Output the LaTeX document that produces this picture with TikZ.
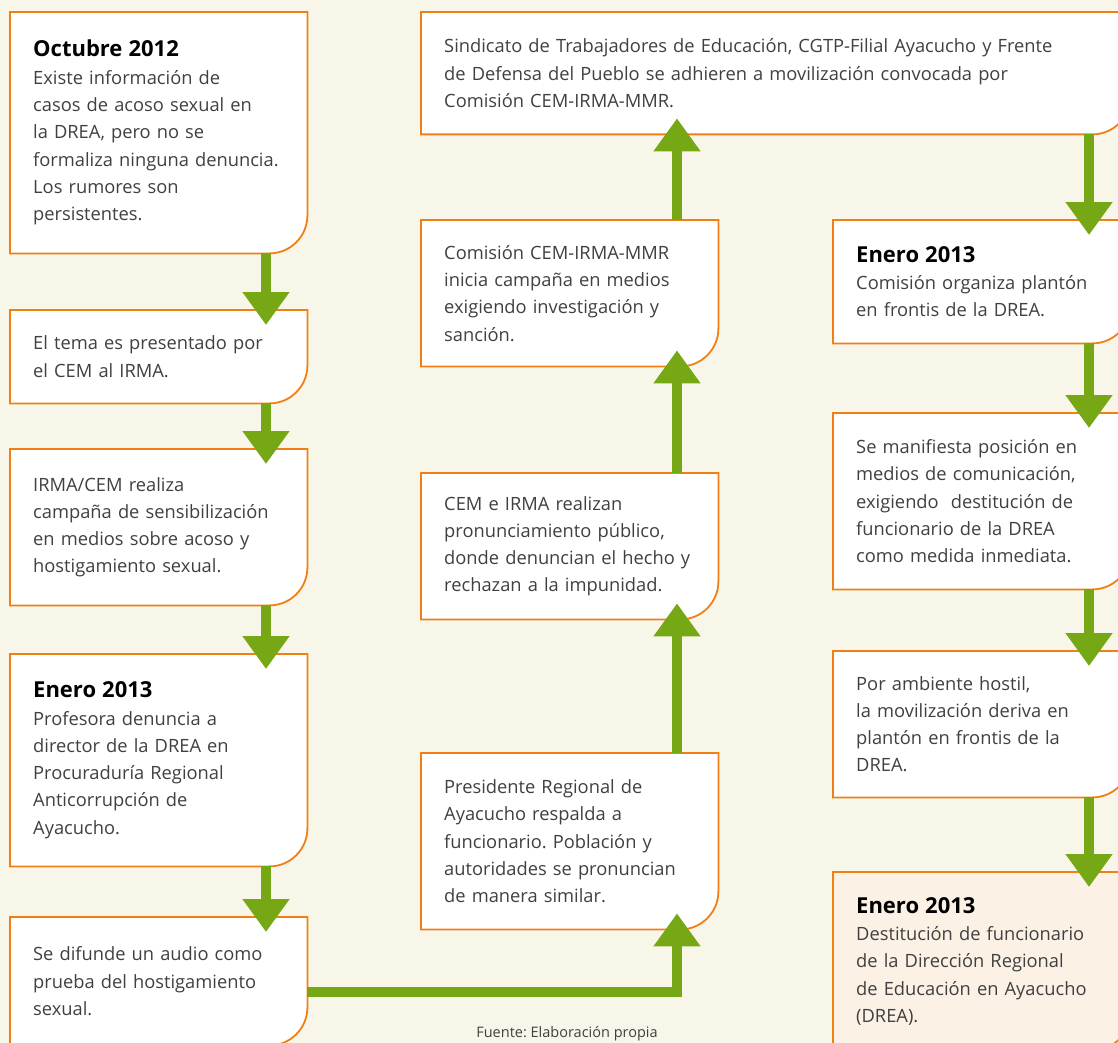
\documentclass[tikz,border=0pt]{standalone}
\usepackage{fontspec}
\setmainfont{Open Sans}
\usetikzlibrary{arrows.meta, backgrounds}
\definecolor{paper}{RGB}{248, 246, 233}
\definecolor{boxorange}{RGB}{240, 128, 20}
\definecolor{flowgreen}{RGB}{118, 168, 22}
\definecolor{endfill}{RGB}{252, 241, 229}
\definecolor{bodygray}{RGB}{64, 64, 64}
\newcommand{\evdate}[1]{{\fontsize{22}{27.3}\selectfont\bfseries\color{black}#1}}
\frenchspacing

\begin{document}
\begin{tikzpicture}[x=1pt, y=-1pt,
  evbox/.style={anchor=north west, minimum width=297pt, text width=251pt,
    inner xsep=23pt, inner ysep=0pt, align=left, text=bodygray,
    font=\fontsize{18.3}{27.3}\selectfont},
  boxline/.style={draw=boxorange, line width=1.8pt},
  flow/.style={line width=10pt, flowgreen, -{Triangle[width=45pt, length=33pt]}}]
  \useasboundingbox (0, 0) rectangle (1118, 1043);
  \clip (0, 0) rectangle (1118, 1043);

  % left column
  \node[evbox, minimum height=241pt] (b1) at (10, 12) {\evdate{Octubre 2012}\\
    Existe información de\\ casos de acoso sexual en\\ la DREA, pero no se\\
    formaliza ninguna denuncia.\\ Los rumores son\\ persistentes.};
  \node[evbox, minimum height=93pt] (b2) at (10, 310) {El tema es presentado por\\ el CEM al IRMA.};
  \node[evbox, minimum height=156pt] (b3) at (10, 449) {IRMA/CEM realiza\\
    campaña de sensibilización\\ en medios sobre acoso y\\ hostigamiento sexual.};
  \node[evbox, minimum height=212pt] (b4) at (10, 654) {\evdate{Enero 2013}\\
    Profesora denuncia a\\ director de la DREA en\\ Procuraduría Regional\\
    Anticorrupción de\\ Ayacucho.};
  \node[evbox, minimum height=128pt] (b5) at (10, 917) {Se difunde un audio como\\
    prueba del hostigamiento\\ sexual.};

  % middle column
  \node[evbox, minimum height=176pt] (m4) at (421, 753) {Presidente Regional de\\
    Ayacucho respalda a\\ funcionario. Población y\\ autoridades se pronuncian\\
    de manera similar.};
  \node[evbox, minimum height=146pt] (m3) at (421, 473) {CEM e IRMA realizan\\
    pronunciamiento público,\\ donde denuncian el hecho y\\ rechazan a la impunidad.};
  \node[evbox, minimum height=146pt] (m2) at (421, 220) {Comisión CEM-IRMA-MMR\\
    inicia campaña en medios\\ exigiendo investigación y\\ sanción.};
  \node[evbox, minimum height=122pt, minimum width=709pt, text width=663pt] (s) at (421, 12)
    {Sindicato de Trabajadores de Educación, CGTP-Filial Ayacucho y Frente\\
    de Defensa del Pueblo se adhieren a movilización convocada por\\
    Comisión CEM-IRMA-MMR.};

  % right column
  \node[evbox, minimum height=123pt] (r1) at (833, 220) {\evdate{Enero 2013}\\
    Comisión organiza plantón\\ en frontis de la DREA.};
  \node[evbox, minimum height=176pt] (r2) at (833, 413) {Se manifiesta posición en\\
    medios de comunicación,\\ exigiendo \ destitución de\\ funcionario de la DREA\\
    como medida inmediata.};
  \node[evbox, minimum height=146pt] (r3) at (833, 651) {Por ambiente hostil,\\
    la movilización deriva en\\ plantón en frontis de la\\ DREA.};
  \node[evbox, minimum height=178pt] (r4) at (833, 872) {\evdate{Enero 2013}\\
    Destitución de funcionario\\ de la Dirección Regional\\ de Educación en Ayacucho\\
    (DREA).};

  \node[anchor=base, text=bodygray, font=\fontsize{14.5}{16}\selectfont] (src) at (567, 1037)
    {Fuente: Elaboración propia};

  % box outlines, only the lower right corner is rounded
  \begin{scope}[on background layer]
    \clip (0, 0) rectangle (1118, 1043);
    \fill[paper] (0, 0) rectangle (1118, 1043);
    \foreach \b/\c in {b1/white, b2/white, b3/white, b4/white, b5/white, s/white,
                       m2/white, m3/white, m4/white, r1/white, r2/white, r3/white, r4/endfill}
      \draw[boxline, fill=\c] (\b.north west) -- (\b.north east) -- ([yshift=38pt]\b.south east)
        .. controls ([yshift=17pt]\b.south east) and ([xshift=-17pt]\b.south east)
        .. ([xshift=-38pt]\b.south east) -- (\b.south west) -- cycle;
  \end{scope}

  % arrows
  \foreach \a/\b in {b1/b2, b2/b3, b3/b4, b4/b5, r1/r2, r2/r3, r3/r4}
    \draw[flow] ([xshift=256pt]\a.south west) -- ([xshift=256pt, yshift=-15pt]\b.north west);
  \foreach \a/\b in {m4/m3, m3/m2, m2/s}
    \draw[flow] ([xshift=256pt]\a.north west) -- ([xshift=256pt, yshift=16pt]\b.south west);
  \draw[flow] ([yshift=-11pt]b5.east) -| ([xshift=256pt, yshift=16pt]m4.south west);
  \coordinate (r1in) at ([xshift=256pt, yshift=-15pt]r1.north west);
  \draw[flow] (s.south -| r1in) -- (r1in);
\end{tikzpicture}
\end{document}
